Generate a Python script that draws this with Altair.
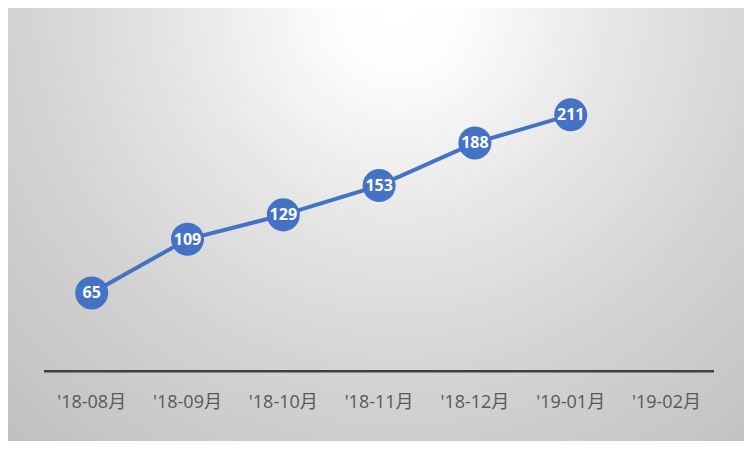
import altair as alt
import pandas as pd

# ---- data ----
categories = ["'18-08月", "'18-09月", "'18-10月", "'18-11月", "'18-12月", "'19-01月", "'19-02月"]
values = [65, 109, 129, 153, 188, 211]

W, H = 736, 433
FONT = "'Open Sans', 'Noto Sans CJK SC', sans-serif"

df = pd.DataFrame({"month": categories[:len(values)], "value": values})
cat_df = pd.DataFrame({"month": categories})

x_scale = alt.Scale(type="point", domain=categories, range=[83.7, 658.5], padding=0)
y_scale = alt.Scale(domain=[0, 250], range=[364.2, 59.3])

X = alt.X("month:N", scale=x_scale, axis=None, sort=categories)
Y = alt.Y("value:Q", scale=y_scale, axis=None)

grad = alt.RadialGradient(
    gradient="radial",
    stops=[
        alt.GradientStop(offset=0, color="#ffffff"),
        alt.GradientStop(offset=0.1, color="#fdfdfd"),
        alt.GradientStop(offset=0.35, color="#e6e6e6"),
        alt.GradientStop(offset=0.6, color="#d3d3d3"),
        alt.GradientStop(offset=1, color="#bcbcbc"),
    ],
    x1=0.53, y1=0, r1=0,
    x2=0.53, y2=0, r2=0.85,
)

bg = alt.Chart(alt.Data(values=[{"k": 1}])).mark_rect(fill=grad, clip=True).encode(
    x=alt.value(0), x2=alt.value(W), y=alt.value(0), y2=alt.value(W)
)

axis_line = alt.Chart(alt.Data(values=[{"k": 1}])).mark_rule(
    color="#404040", strokeWidth=2.5
).encode(x=alt.value(36), x2=alt.value(706), y=alt.value(363.2))

line = alt.Chart(df).mark_line(color="#4472C4", strokeWidth=4).encode(x=X, y=Y)
pts = alt.Chart(df).mark_circle(size=1090, color="#4472C4", opacity=1).encode(x=X, y=Y)
lbl = alt.Chart(df).mark_text(
    color="white", fontWeight="bold", fontSize=16, font=FONT, baseline="middle", dy=0.5
).encode(x=X, y=Y, text="value:Q")

cat_lbl = alt.Chart(cat_df).mark_text(
    color="#595959", fontSize=18, font=FONT, baseline="middle"
).encode(x=X, y=alt.value(395), text="month:N")

chart = alt.layer(bg, axis_line, line, pts, lbl, cat_lbl).properties(
    width=W, height=H, padding=0,
    autosize=alt.AutoSizeParams(type="fit", contains="padding"),
).configure_view(stroke="#bfbfbf", strokeWidth=1)

chart.save("out.html", embed_options={"renderer": "svg", "actions": False})
